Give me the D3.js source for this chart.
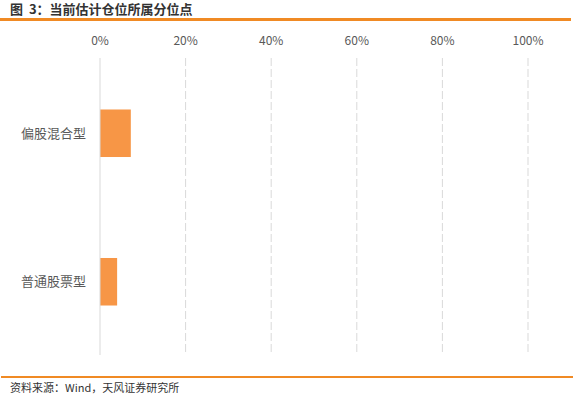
<!DOCTYPE html>
<html lang="zh">
<head>
<meta charset="UTF-8">
<title>当前估计仓位所属分位点</title>
<script src="https://d3js.org/d3.v7.min.js"></script>
<style>
    body { margin: 0; background: #fff; }
    svg { display: block; font-family: "Noto Sans CJK SC", "Microsoft YaHei", sans-serif; }
    .tick-label { font-size: 12px; fill: #595959; }
    .cat-label { font-size: 13px; fill: #595959; }
</style>
</head>
<body>
<div id="chart"></div>
<script>
    // data
    const categories = ["偏股混合型", "普通股票型"];
    const values = [0.072, 0.04];
    const tickValues = [0, 0.2, 0.4, 0.6, 0.8, 1.0];

    const W = 573, H = 398;
    const svg = d3.select("#chart").append("svg")
        .attr("width", W).attr("height", H);

    // title + rules
    svg.append("text")
        .attr("x", 10).attr("y", 14)
        .style("font-size", "13px").style("font-weight", "bold").style("fill", "#333")
        .style("white-space", "pre")
        .text("图  3：当前估计仓位所属分位点");
    svg.append("rect").attr("x", 0).attr("y", 18).attr("width", 571).attr("height", 3).attr("fill", "#f08a24");
    svg.append("rect").attr("x", 1).attr("y", 376).attr("width", 572).attr("height", 2).attr("fill", "#f08a24");
    svg.append("text")
        .attr("x", 10).attr("y", 392)
        .style("font-size", "11px").style("fill", "#333")
        .text("资料来源：Wind，天风证券研究所");

    const x = d3.scaleLinear().domain([0, 1]).range([100, 528]);
    const y = d3.scaleBand().domain(categories).range([59, 356])
        .paddingInner(0.68).paddingOuter(0.34);

    // grid
    svg.selectAll(".grid").data(tickValues.slice(1)).enter().append("line")
        .attr("x1", d => x(d)).attr("x2", d => x(d))
        .attr("y1", 58).attr("y2", 355)
        .attr("stroke", "#d9d9d9").attr("stroke-width", 1)
        .attr("stroke-dasharray", "8,3");

    // top tick labels
    svg.selectAll(".tick-label").data(tickValues).enter().append("text")
        .attr("class", "tick-label")
        .attr("x", d => x(d)).attr("y", 45)
        .attr("text-anchor", "middle")
        .text(d => d3.format(".0%")(d));

    // bars
    svg.selectAll(".bar").data(values).enter().append("rect")
        .attr("x", x(0))
        .attr("y", (d, i) => y(categories[i]))
        .attr("width", d => x(d) - x(0))
        .attr("height", y.bandwidth())
        .attr("fill", "#f79646");

    // axis line
    svg.append("line")
        .attr("x1", x(0)).attr("x2", x(0))
        .attr("y1", 58).attr("y2", 355)
        .attr("stroke", "#d9d9d9").attr("stroke-width", 1);

    // category labels
    svg.selectAll(".cat-label").data(categories).enter().append("text")
        .attr("class", "cat-label")
        .attr("x", 86)
        .attr("y", d => y(d) + y.bandwidth() / 2)
        .attr("dy", "0.35em")
        .attr("text-anchor", "end")
        .text(d => d);
</script>
</body>
</html>
